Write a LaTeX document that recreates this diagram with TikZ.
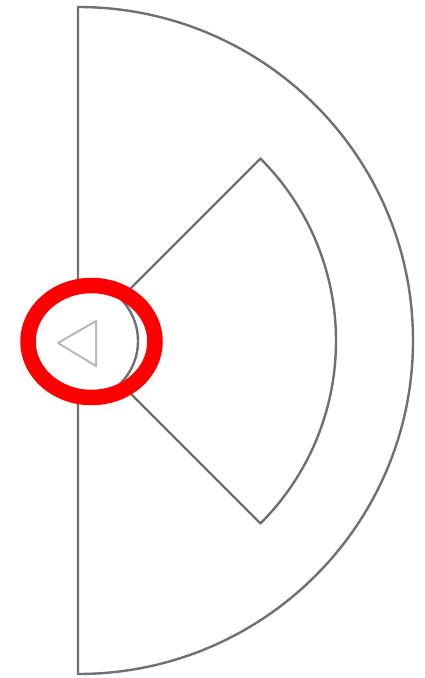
\documentclass[tikz,border=0pt]{standalone}
\usetikzlibrary{calc}
\begin{document}
\begin{tikzpicture}[x=1pt,y=-1pt,
  plan/.style={draw={rgb,255:red,112;green,112;blue,112},line width=2.4pt,line join=round},
  faint/.style={draw={rgb,255:red,185;green,185;blue,185},line width=2pt,line join=round},
  ring/.style={draw={rgb,255:red,255;green,0;blue,0},line width=15.5pt}]
\useasboundingbox (0,0) rectangle (425,678);
\fill[white] (0,0) rectangle (425,678);
\coordinate (c) at (78,341);
\coordinate (top) at (78,7);
\coordinate (gapT) at (78,281);
\coordinate (gapB) at (78,401);
% outer half disc
\draw[plan] (gapT) -- (top) arc[start angle=-90,end angle=90,x radius=335,y radius=333.5] -- (gapB);
% small half circle at the centre
\draw[plan] (gapT) arc[start angle=-90,end angle=90,radius=60];
% inner sector
\coordinate (s1) at ($(c)+(-45:60)$);
\coordinate (s2) at ($(c)+(-45:258)$);
\coordinate (s3) at ($(c)+(45:258)$);
\coordinate (s4) at ($(c)+(45:60)$);
\draw[plan] (s1) -- (s2) arc[start angle=-45,end angle=45,radius=258] -- (s4);
% triangle
\draw[faint] (58,343) -- (96,321) -- (96,366) -- cycle;
% red ring
\draw[ring] (91.5,341.5) ellipse[x radius=63.5,y radius=56];
\end{tikzpicture}
\end{document}
